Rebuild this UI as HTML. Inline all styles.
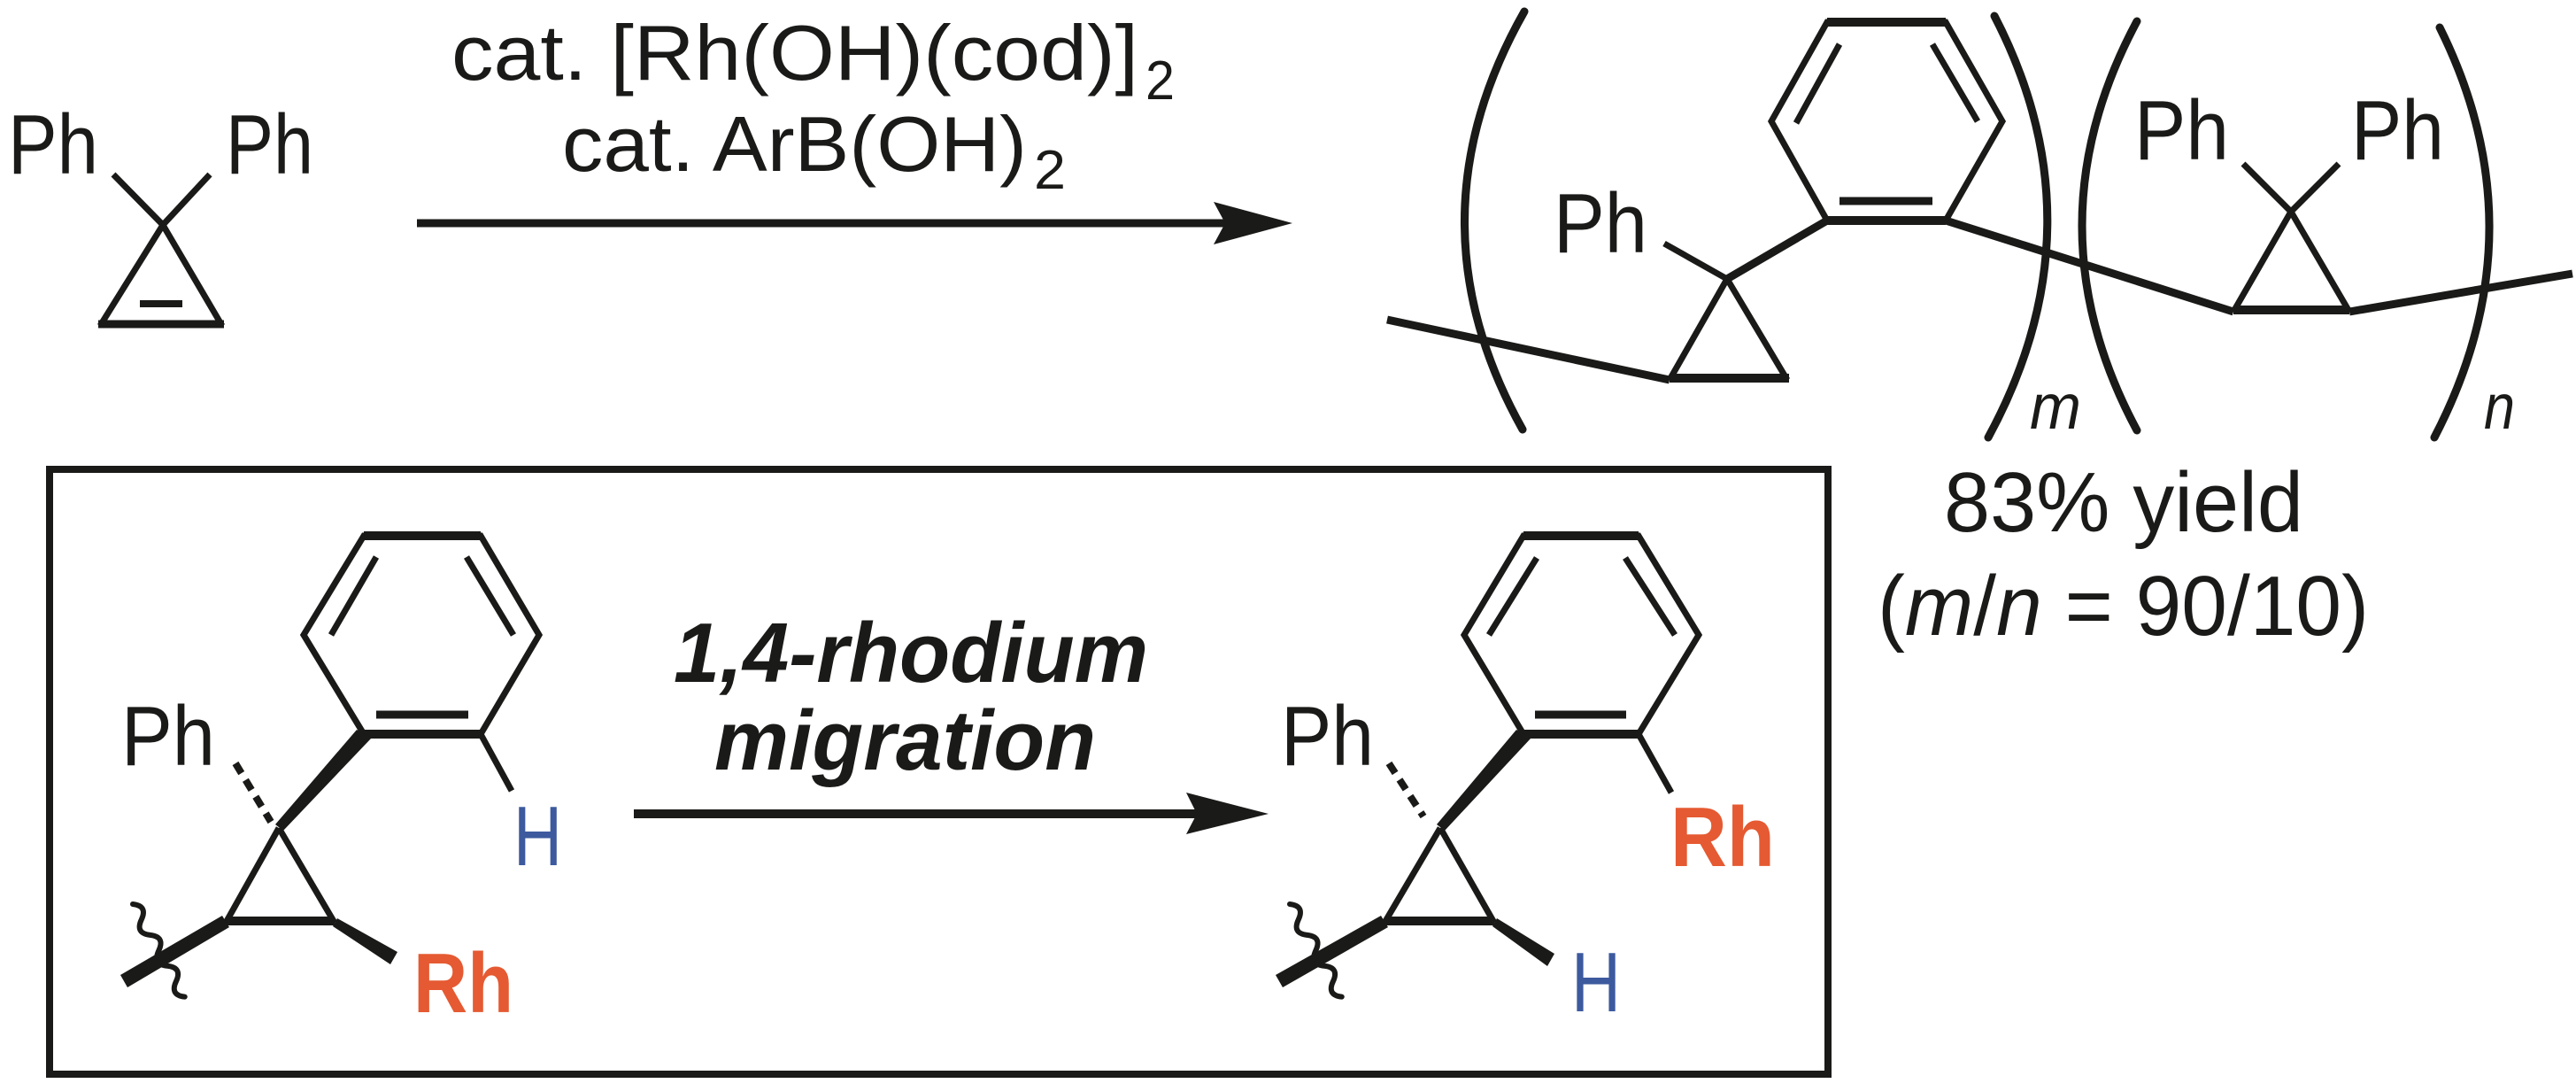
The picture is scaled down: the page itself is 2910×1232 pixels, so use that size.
<!DOCTYPE html>
<html><head><meta charset="utf-8"><style>html,body{margin:0;padding:0;background:#fff}svg{display:block}</style></head>
<body>
<svg width="2910" height="1232" viewBox="0 0 2910 1232" xmlns="http://www.w3.org/2000/svg" font-family="'Liberation Sans', sans-serif">
<g stroke="#1a1a18" stroke-width="7" fill="none" stroke-linecap="butt">
<!-- cyclopropene -->
<line x1="128" y1="197" x2="184" y2="254"/>
<line x1="237" y1="197" x2="184" y2="254"/>
<line x1="184" y1="254" x2="113" y2="368"/>
<line x1="184" y1="254" x2="251" y2="368"/>
<line x1="111" y1="366" x2="253" y2="366" stroke-width="9"/>
<line x1="158" y1="343" x2="206" y2="343" stroke-width="8"/>
<!-- main arrow -->
<line x1="471" y1="252" x2="1400" y2="252" stroke-width="9"/>
<!-- product -->
<path d="M1722 13 Q1588 249 1720 485" stroke-width="9" stroke-linecap="round"/>
<path d="M2253 18 Q2376 255 2246 494" stroke-width="9" stroke-linecap="round"/>
<path d="M2414 24 Q2290 255 2414 486" stroke-width="9" stroke-linecap="round"/>
<path d="M2756 31 Q2871 262 2750 494" stroke-width="9" stroke-linecap="round"/>
<polygon points="2064,25 2198,25 2262,137 2198,249 2064,249 2001,137"/>
<line x1="2064" y1="25" x2="2198" y2="25" stroke-width="10"/>
<line x1="2064" y1="249" x2="2198" y2="249" stroke-width="10"/>
<line x1="2078" y1="50" x2="2029" y2="139"/>
<line x1="2183" y1="50" x2="2234" y2="137"/>
<line x1="2078" y1="227" x2="2183" y2="227" stroke-width="9"/>
<line x1="2064" y1="249" x2="1951" y2="315" stroke-width="9"/>
<line x1="1880" y1="275" x2="1951" y2="315"/>
<line x1="1951" y1="315" x2="1886" y2="429"/>
<line x1="1951" y1="315" x2="2019" y2="429"/>
<line x1="1886" y1="427" x2="2021" y2="427" stroke-width="10"/>
<line x1="1567" y1="361" x2="1886" y2="429" stroke-width="9"/>
<line x1="2198" y1="249" x2="2523" y2="352" stroke-width="9"/>
<line x1="2534" y1="185" x2="2588" y2="239"/>
<line x1="2642" y1="185" x2="2588" y2="239"/>
<line x1="2588" y1="239" x2="2523" y2="352"/>
<line x1="2588" y1="239" x2="2654" y2="352"/>
<line x1="2523" y1="350" x2="2654" y2="350" stroke-width="10"/>
<line x1="2654" y1="352" x2="2906" y2="309" stroke-width="9"/>
<!-- box -->
<rect x="56" y="530" width="2009" height="683" stroke-width="8"/>
<!-- left benzene -->
<polygon points="411,605 543,605 609,717 543,829 411,829 343,717"/>
<line x1="411" y1="605" x2="543" y2="605" stroke-width="10"/>
<line x1="411" y1="829" x2="543" y2="829" stroke-width="10"/>
<line x1="425" y1="629" x2="374" y2="717"/>
<line x1="527" y1="629" x2="580" y2="717"/>
<line x1="425" y1="807" x2="529" y2="807" stroke-width="9"/>
<line x1="543" y1="829" x2="578" y2="893"/>
<line x1="315" y1="935" x2="255" y2="1042"/>
<line x1="315" y1="935" x2="378" y2="1042"/>
<line x1="255" y1="1040" x2="378" y2="1040" stroke-width="10"/>
<line x1="266" y1="862" x2="306" y2="928" stroke-dasharray="13,9" stroke-width="8"/>
<path transform="translate(150,1021) rotate(60.7)" d="M0 0 q10 -14 20 0 t20 0 t20 0 t20 0 t20 0 t20 0" stroke-width="6" stroke-linecap="round"/>
<!-- right benzene -->
<polygon points="1721,605 1851,605 1919,717 1851,829 1721,829 1654,717"/>
<line x1="1721" y1="605" x2="1851" y2="605" stroke-width="10"/>
<line x1="1721" y1="829" x2="1851" y2="829" stroke-width="10"/>
<line x1="1736" y1="630" x2="1682" y2="717"/>
<line x1="1836" y1="630" x2="1892" y2="717"/>
<line x1="1734" y1="807" x2="1837" y2="807" stroke-width="9"/>
<line x1="1851" y1="829" x2="1888" y2="895"/>
<line x1="1627" y1="935" x2="1564" y2="1042"/>
<line x1="1627" y1="935" x2="1688" y2="1042"/>
<line x1="1564" y1="1040" x2="1688" y2="1040" stroke-width="10"/>
<line x1="1569" y1="862" x2="1608" y2="922" stroke-dasharray="13,9" stroke-width="8"/>
<path transform="translate(1457,1021) rotate(60.7)" d="M0 0 q10 -14 20 0 t20 0 t20 0 t20 0 t20 0 t20 0" stroke-width="6" stroke-linecap="round"/>
<!-- mechanism arrow -->
<line x1="716" y1="919" x2="1370" y2="919" stroke-width="10"/>
</g>
<g fill="#1a1a18">
<polygon points="1371,228 1460,252 1371,276 1384,252"/>
<polygon points="1340,895 1433,919 1340,942 1352,919"/>
<!-- wedges -->
<polygon points="403,824 419,834 320,938 311,931"/>
<polygon points="1713,824 1729,834 1632,938 1623,931"/>
<polygon points="376,1046 381,1037 449,1075 441,1089"/>
<polygon points="1686,1046 1691,1037 1756,1077 1748,1091"/>
<polygon points="251,1034 259,1047 144,1115 136,1101"/>
<polygon points="1560,1034 1568,1047 1449,1115 1441,1101"/>
</g>
<g fill="#1a1a18" font-size="96">
<text x="9" y="196" textLength="102" lengthAdjust="spacingAndGlyphs">Ph</text>
<text x="255" y="196" textLength="99" lengthAdjust="spacingAndGlyphs">Ph</text>
<text x="510" y="90" font-size="88" textLength="776" lengthAdjust="spacingAndGlyphs">cat. [Rh(OH)(cod)]</text>
<text x="1294" y="112" font-size="62" textLength="33" lengthAdjust="spacingAndGlyphs">2</text>
<text x="635" y="193" font-size="88" textLength="525" lengthAdjust="spacingAndGlyphs">cat. ArB(OH)</text>
<text x="1168" y="213" font-size="62" textLength="36" lengthAdjust="spacingAndGlyphs">2</text>
<text x="1755" y="285" textLength="106" lengthAdjust="spacingAndGlyphs">Ph</text>
<text x="2411" y="180" textLength="107" lengthAdjust="spacingAndGlyphs">Ph</text>
<text x="2656" y="180" textLength="105" lengthAdjust="spacingAndGlyphs">Ph</text>
<text x="2293" y="484" font-size="72" font-style="italic" textLength="58" lengthAdjust="spacingAndGlyphs">m</text>
<text x="2806" y="484" font-size="72" font-style="italic" textLength="35" lengthAdjust="spacingAndGlyphs">n</text>
<text x="2196" y="600" textLength="406" lengthAdjust="spacingAndGlyphs">83% yield</text>
<text x="2121" y="717" textLength="555" lengthAdjust="spacingAndGlyphs">(<tspan font-style="italic">m</tspan>/<tspan font-style="italic">n</tspan> = 90/10)</text>
<text x="137" y="864" textLength="106" lengthAdjust="spacingAndGlyphs">Ph</text>
<text x="1447" y="864" textLength="105" lengthAdjust="spacingAndGlyphs">Ph</text>
<text x="761" y="770" font-weight="bold" font-style="italic" textLength="536" lengthAdjust="spacingAndGlyphs">1,4-rhodium</text>
<text x="807" y="869" font-weight="bold" font-style="italic" textLength="431" lengthAdjust="spacingAndGlyphs">migration</text>
<text x="580" y="977" fill="#3d5a9e" textLength="55" lengthAdjust="spacingAndGlyphs">H</text>
<text x="1775" y="1142" fill="#3d5a9e" textLength="56" lengthAdjust="spacingAndGlyphs">H</text>
<text x="467" y="1143" fill="#e55a32" font-weight="bold" textLength="113" lengthAdjust="spacingAndGlyphs">Rh</text>
<text x="1887" y="978" fill="#e55a32" font-weight="bold" textLength="118" lengthAdjust="spacingAndGlyphs">Rh</text>
</g>
</svg>
</body></html>
